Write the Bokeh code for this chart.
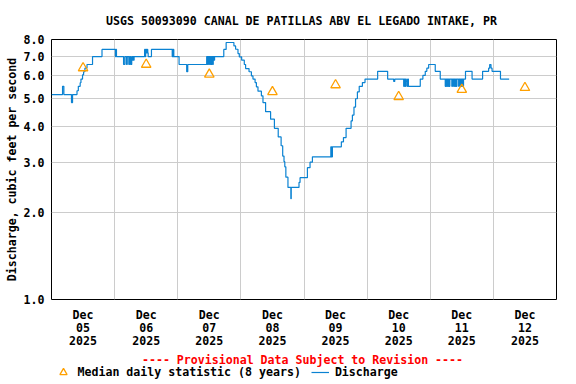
import pandas as pd
from bokeh.plotting import figure
from bokeh.layouts import column
from bokeh.models import (Range1d, FixedTicker, PrintfTickFormatter, DatetimeTickFormatter,
                          Legend, LegendItem, ColumnDataSource, Title, Label)
from bokeh.embed import file_html
from bokeh.resources import INLINE

# ---------------- data ----------------
title_text = "USGS 50093090 CANAL DE PATILLAS ABV EL LEGADO INTAKE, PR"
y_label_text = "Discharge, cubic feet per second"
provisional_text = "---- Provisional Data Subject to Revision ----"
series_names = ["Median daily statistic (8 years)", "Discharge"]

start_time = "2025-12-05 00:00"
# discharge: hours after start_time at which the reading changes, and the value (cfs)
q_hours = [
    0.0, 4.2, 4.7, 7.6, 8.0, 9.7, 10.2, 10.9, 11.2, 11.8, 12.2, 12.7, 13.5, 15.6, 19.2,
    24.3, 24.5, 24.7,
    27.4, 27.9, 28.5, 28.8, 29.4, 29.7, 30.1, 30.5, 30.7, 30.85, 31.0, 31.15, 31.3, 31.4,
    35.4, 35.6, 35.8, 36.0, 36.15, 36.3, 36.45, 36.6, 36.75,
    38.0, 45.9, 46.05, 46.2, 46.35, 46.5, 48.5, 51.4, 51.8,
    59.0, 59.25, 59.5, 59.75, 60.0, 60.25, 60.5, 60.75, 61.0, 61.25, 61.5, 61.75, 62.0,
    65.5, 66.4, 69.35, 70.0, 70.9, 71.4, 72.3, 73.3, 73.8, 75.1, 76.0, 76.6, 77.4, 77.9,
    78.5, 79.8, 80.4, 81.4, 83.3, 84.75, 86.2, 87.3, 87.9, 88.4, 88.7, 89.1, 89.9, 91.0,
    91.15, 94.1, 94.5, 97.3, 98.3, 99.2,
    106.2, 106.35, 106.5, 106.65, 106.8, 110.2, 111.0, 112.0, 113.9, 114.4, 115.0, 115.6,
    116.3, 117.0, 118.2, 119.2,
    124.0, 127.8, 130.1, 130.5,
    133.9, 134.15, 134.4, 134.65, 134.9, 135.15, 135.4, 135.7,
    140.2, 141.2, 142.1, 142.7, 143.4, 145.9, 147.8,
    149.7, 149.95, 150.2, 150.45, 150.7, 150.95, 151.2, 151.45,
    152.2, 152.45,
    152.9, 153.15, 153.4, 153.65, 153.9, 154.15,
    154.8, 155.0,
    155.4, 155.65, 155.9, 156.15, 156.4, 156.65,
    157.4, 159.9, 163.9, 166.2, 166.6, 167.1, 167.5, 170.7, 174.0,
]
q_cfs = [
    5.15, 5.5, 5.15, 4.83, 5.15, 5.31, 5.5, 5.66, 5.83, 6.03, 6.18, 6.36, 6.55, 6.98, 7.39,
    6.98, 7.39, 6.98,
    6.55, 6.98, 6.55, 6.98, 6.55, 6.98, 6.55, 6.98, 6.78, 6.98, 6.78, 6.98, 6.78, 6.98,
    7.39, 6.98, 7.39, 7.19, 7.39, 7.19, 7.39, 7.19, 6.98,
    7.39, 6.98, 7.39, 6.98, 7.39, 6.98, 6.55, 6.18, 6.55,
    6.98, 6.55, 6.98, 6.55, 6.98, 6.55, 6.98, 6.55, 6.98, 6.55, 6.98, 6.78, 6.98,
    7.39, 7.81, 7.6, 7.4, 7.15, 6.96, 6.78, 6.55, 6.34, 6.18, 5.98, 5.83, 5.67, 5.48,
    5.29, 5.1, 4.83, 4.49, 4.23, 3.93, 3.67, 3.42, 3.15, 3.01, 2.89, 2.66, 2.45, 2.24,
    2.45, 2.55, 2.65, 2.87, 3.0, 3.13,
    3.39, 3.13, 3.39, 3.13, 3.39, 3.53, 3.65, 3.93, 4.17, 4.37, 4.66, 4.98,
    5.26, 5.5, 5.67, 5.83,
    6.2, 5.83, 5.72, 5.83,
    5.5, 5.83, 5.5, 5.83, 5.72, 5.5, 5.83, 5.5,
    5.83, 6.0, 6.2, 6.36, 6.55, 6.2, 5.83,
    5.5, 5.83, 5.5, 5.83, 5.5, 5.83, 5.5, 5.83,
    5.5, 5.83,
    5.5, 5.83, 5.5, 5.83, 5.5, 5.83,
    5.5, 5.83,
    5.5, 5.83, 5.5, 5.83, 5.5, 5.83,
    6.2, 5.83, 6.2, 6.36, 6.55, 6.36, 6.2, 5.83, 5.83,
]

median_dates = ["2025-12-05 12:00", "2025-12-06 12:00", "2025-12-07 12:00", "2025-12-08 12:00",
                "2025-12-09 12:00", "2025-12-10 12:00", "2025-12-11 12:00", "2025-12-12 12:00"]
median_cfs = [6.37, 6.55, 6.05, 5.26, 5.56, 5.06, 5.36, 5.44]

x_start = "2025-12-05 00:00"
x_end = "2025-12-13 00:00"
label_dates = median_dates                      # tick labels at noon of each day
grid_dates = ["2025-12-06", "2025-12-07", "2025-12-08", "2025-12-09",
              "2025-12-10", "2025-12-11", "2025-12-12"]
y_ticks = [1, 2, 3, 4, 5, 6, 7, 8]

# ---------------- styling ----------------
FONT = "DejaVu Sans Mono"
FSIZE = "11.6px"
BLUE = "#0a82d2"
ORANGE = "#ffa000"
W = 576
H_MAIN = 351
H_FOOT = 384 - H_MAIN
B_LEFT, B_RIGHT = 51, 20


def to_ms(values):
    idx = pd.to_datetime(pd.Series(values))
    return [float((t - pd.Timestamp("1970-01-01")) / pd.Timedelta(milliseconds=1)) for t in idx]


q_time = pd.Timestamp(start_time) + pd.to_timedelta(q_hours, unit="h")
q_src = ColumnDataSource(data=dict(t=q_time, q=q_cfs))
m_src = ColumnDataSource(data=dict(t=pd.to_datetime(median_dates), q=median_cfs))

p = figure(width=W, height=H_MAIN, x_axis_type="datetime", y_axis_type="log",
           x_range=Range1d(pd.Timestamp(x_start), pd.Timestamp(x_end)),
           y_range=Range1d(1, 8), title=None,
           toolbar_location=None, output_backend="svg",
           min_border_left=B_LEFT, min_border_right=B_RIGHT, min_border_top=39,
           min_border_bottom=H_MAIN - 39 - 260)
p.background_fill_color = "white"
p.border_fill_color = "white"
p.outline_line_color = "black"
p.outline_line_width = 1

text_style = dict(text_font=FONT, text_font_style="bold", text_font_size=FSIZE)

# axes
for ax in (p.xaxis[0], p.yaxis[0]):
    ax.axis_line_color = None
    ax.major_tick_line_color = None
    ax.minor_tick_line_color = None
    ax.major_tick_in = 0
    ax.major_tick_out = 0
    ax.minor_tick_in = 0
    ax.minor_tick_out = 0
    ax.major_label_text_font = FONT
    ax.major_label_text_font_style = "bold"
    ax.major_label_text_font_size = FSIZE
    ax.major_label_text_color = "black"
    ax.axis_label_text_font = FONT
    ax.axis_label_text_font_style = "bold"
    ax.axis_label_text_font_size = FSIZE

p.xaxis[0].ticker = FixedTicker(ticks=to_ms(label_dates), minor_ticks=[])
fmt = "%b\n%d\n%Y"
p.xaxis[0].formatter = DatetimeTickFormatter(days=fmt, hours=fmt, hourmin=fmt, months=fmt,
                                             context=None)
p.xaxis[0].major_label_standoff = 8
p.xaxis[0].major_label_text_line_height = 0.95

p.yaxis[0].ticker = FixedTicker(ticks=y_ticks, minor_ticks=[])
p.yaxis[0].formatter = PrintfTickFormatter(format="%.1f")
p.yaxis[0].major_label_standoff = 7
p.yaxis[0].axis_label = y_label_text
p.yaxis[0].axis_label_text_color = "black"
p.yaxis[0].axis_label_standoff = 2

p.xgrid[0].ticker = FixedTicker(ticks=to_ms(grid_dates), minor_ticks=[])
p.ygrid[0].ticker = FixedTicker(ticks=y_ticks, minor_ticks=[])
for g in (p.xgrid[0], p.ygrid[0]):
    g.grid_line_color = "#cccccc"
    g.grid_line_width = 1

# glyphs
line_style = dict(line_color=BLUE, line_width=1.2)
tri_style = dict(marker="triangle", line_color=ORANGE, fill_color=None, line_width=1.3)
r_q = p.step(x="t", y="q", source=q_src, mode="after", **line_style)
r_m = p.scatter(x="t", y="q", source=m_src, size=9.5, **tri_style)

# main title
p.add_layout(Title(text=title_text, align="left", offset=54.5, vertical_align="top",
                   standoff=20, text_color="black", **text_style), "above")

# ---------------- footer: provisional notice + legend ----------------
f = figure(width=W, height=H_FOOT, x_range=Range1d(0, 1), y_range=Range1d(0, 1),
           toolbar_location=None, output_backend="svg", title=None,
           x_axis_location=None, y_axis_location=None,
           min_border_left=B_LEFT, min_border_right=B_RIGHT,
           min_border_top=0, min_border_bottom=0)
f.grid.visible = False
f.outline_line_color = None
f.background_fill_color = "white"
f.border_fill_color = "white"

# screen positions below are relative to the footer frame (left edge at B_LEFT)
f.add_layout(Label(x=302 - B_LEFT, y=H_FOOT - 8.5, x_units="screen", y_units="screen",
                   text=provisional_text, text_color="#ff0000", text_align="center",
                   text_baseline="middle", **text_style))

# legend carriers: same series and styles, outside the footer's visible range
lg_m = f.scatter(x="t", y="q", source=m_src, size=9.5, **tri_style)
lg_q = f.line(x="t", y="q", source=q_src, **line_style)
legend = Legend(items=[LegendItem(label=series_names[0], renderers=[lg_m]),
                       LegendItem(label=series_names[1], renderers=[lg_q])],
                orientation="horizontal", location=(53.5 - B_LEFT, H_FOOT - 21 - 9),
                padding=0, spacing=10, margin=0,
                glyph_width=18, glyph_height=18, label_standoff=6,
                label_height=12, label_width=10,
                border_line_color=None, background_fill_alpha=0,
                label_text_font=FONT, label_text_font_style="bold",
                label_text_font_size=FSIZE, label_text_color="black")
f.add_layout(legend)

layout = column(p, f, spacing=0)
open("out.html", "w").write(file_html(layout, INLINE))
